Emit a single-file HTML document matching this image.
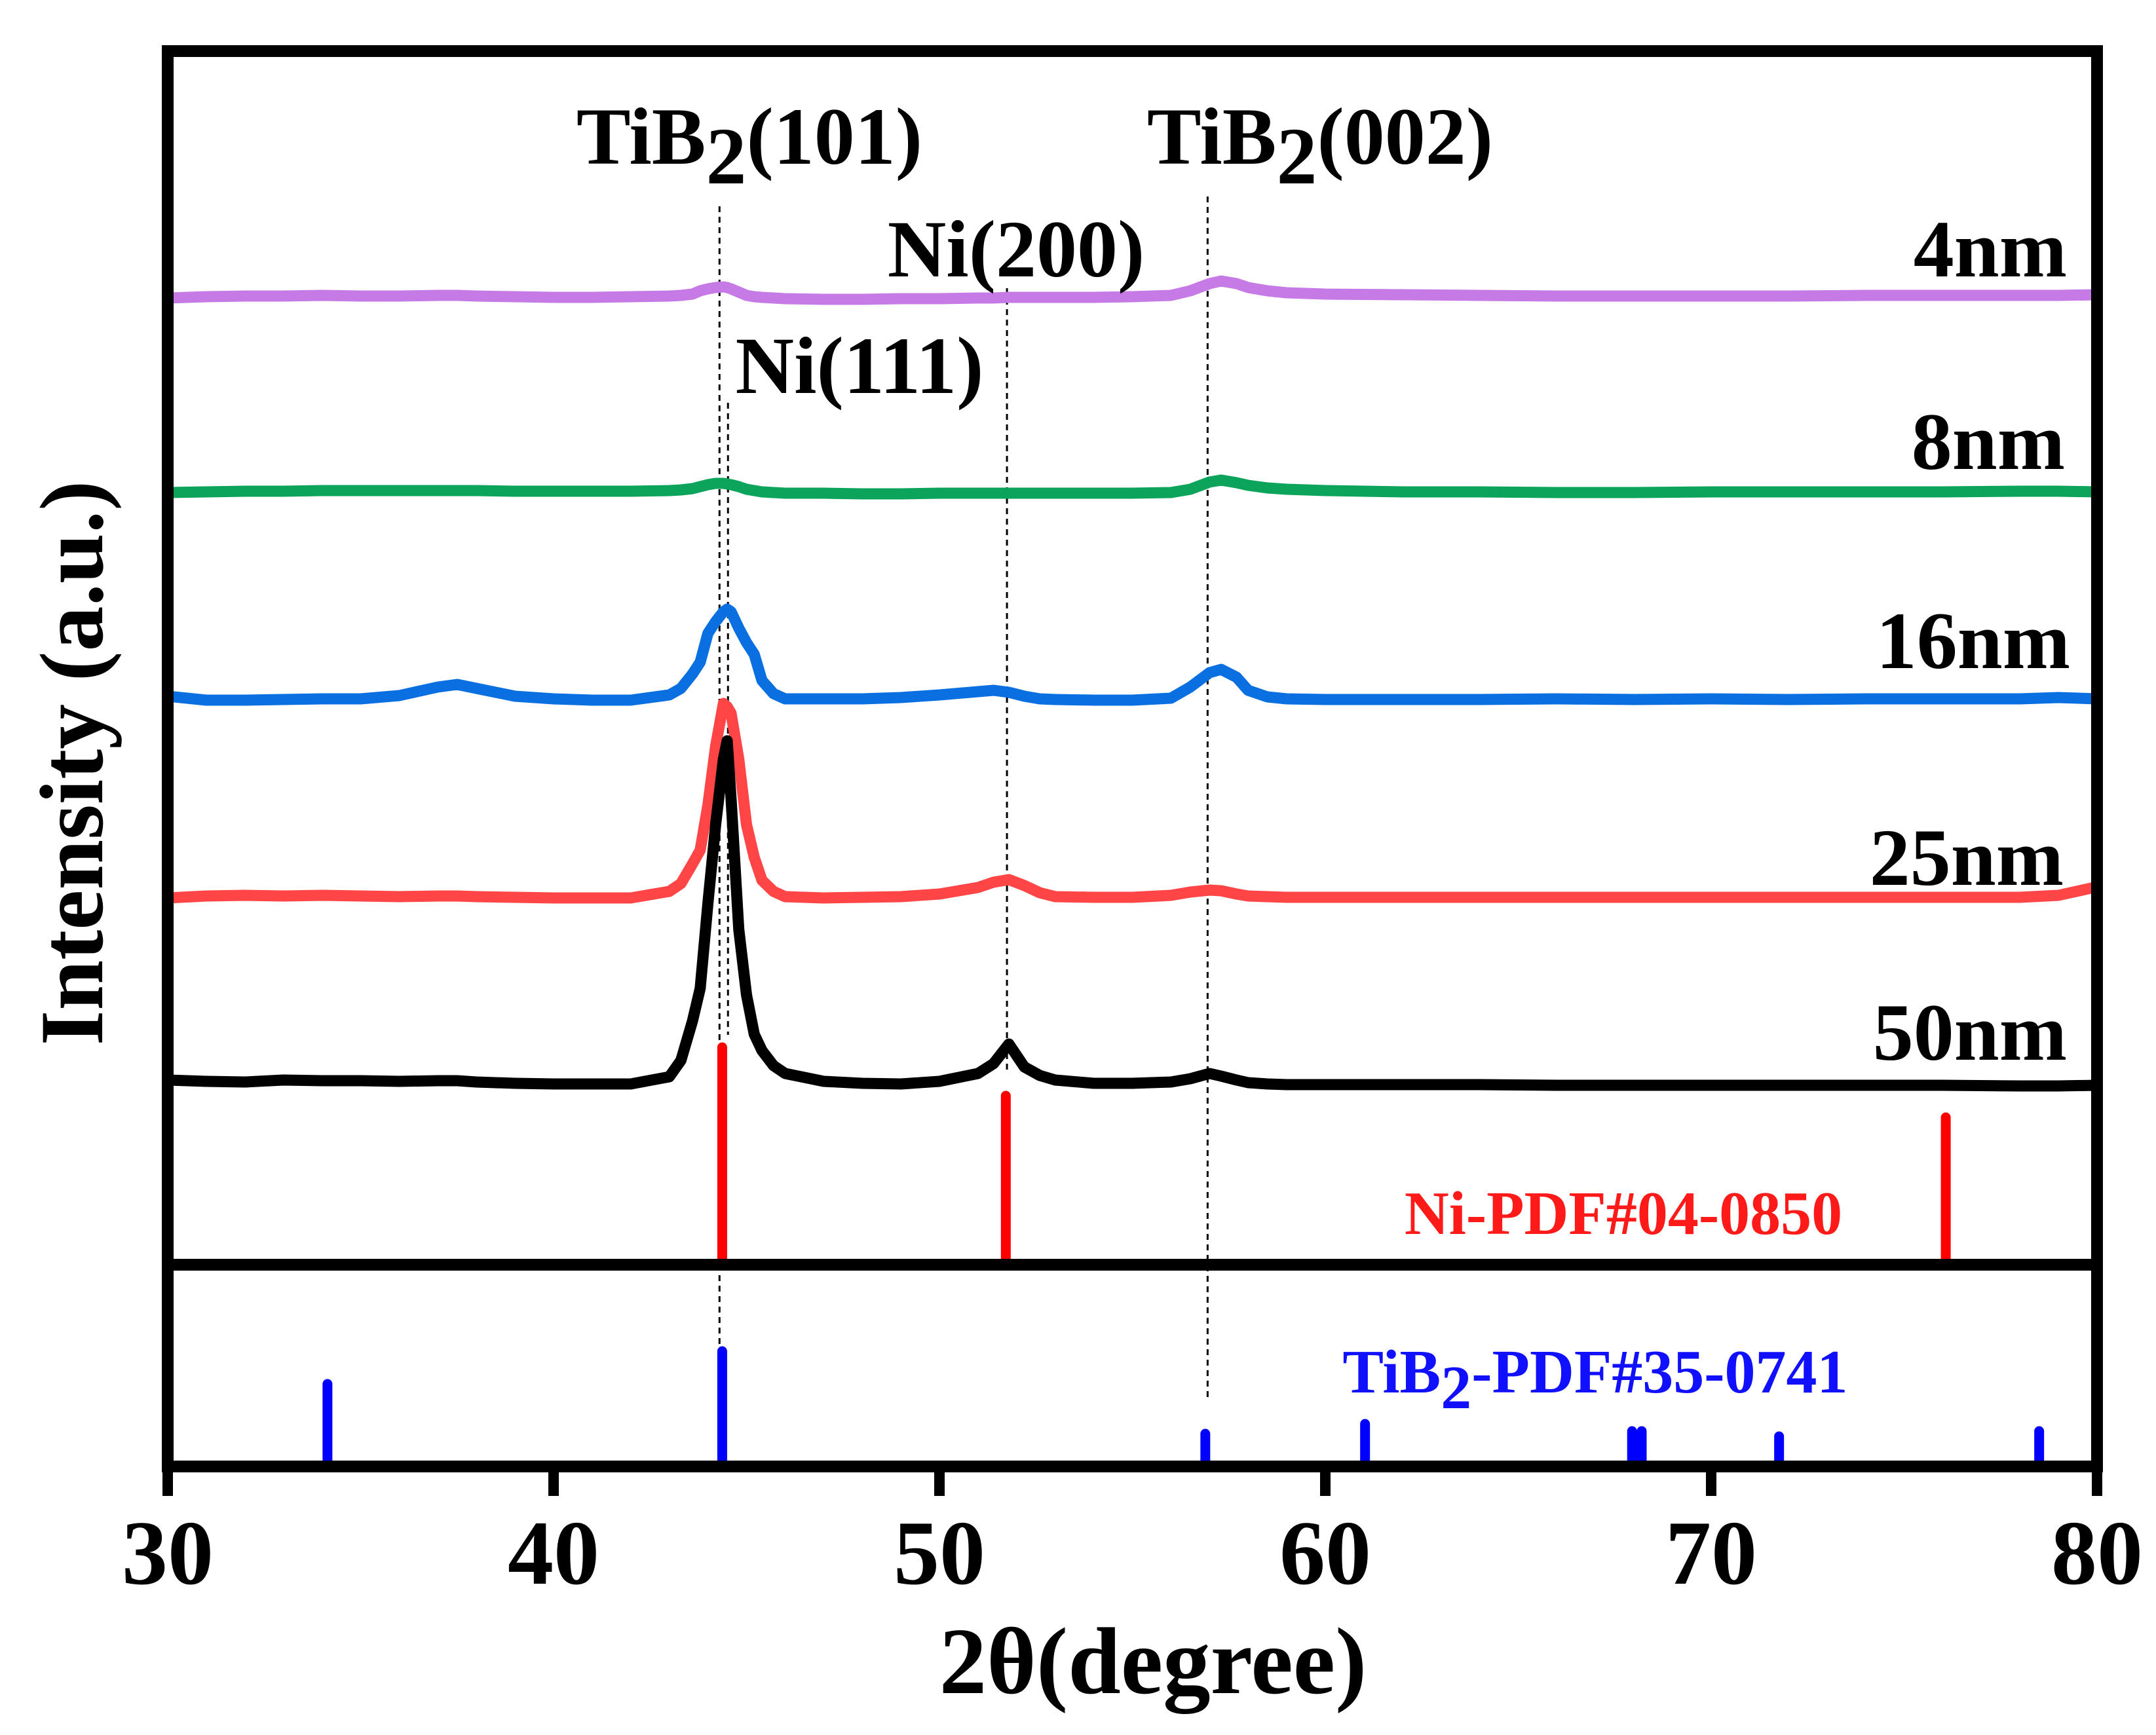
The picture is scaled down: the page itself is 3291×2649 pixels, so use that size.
<!DOCTYPE html>
<html><head><meta charset="utf-8"><title>XRD patterns</title>
<style>html,body{margin:0;padding:0;background:#fff}svg{display:block}</style></head>
<body>
<svg id="chart" width="3291" height="2649" viewBox="0 0 3291 2649" xmlns="http://www.w3.org/2000/svg" font-family="'Liberation Serif', serif" font-weight="bold">
<g id="refs"></g>
<g id="traces"></g>
<g id="sticks"></g>
<g id="frame"></g>
<g id="labels">
  <text x="1144" y="250" font-size="124" text-anchor="middle">TiB<tspan dy="30">2</tspan><tspan dy="-30">(101)</tspan></text>
  <text x="2015" y="250" font-size="124" text-anchor="middle">TiB<tspan dy="30">2</tspan><tspan dy="-30">(002)</tspan></text>
  <text x="1551" y="422" font-size="124" text-anchor="middle">Ni(200)</text>
  <text x="1312" y="600" font-size="124" text-anchor="middle">Ni(111)</text>
  <text x="3155" y="422" font-size="124" text-anchor="end">4nm</text>
  <text x="3152" y="716" font-size="124" text-anchor="end">8nm</text>
  <text x="3160" y="1020" font-size="124" text-anchor="end">16nm</text>
  <text x="3150" y="1351" font-size="124" text-anchor="end">25nm</text>
  <text x="3155" y="1618" font-size="124" text-anchor="end">50nm</text>
  <text x="2478" y="1884" font-size="94" fill="#ff1a1a" text-anchor="middle">Ni-PDF#04-0850</text>
  <text x="2435" y="2126" font-size="94" fill="#1010ff" text-anchor="middle">TiB<tspan dy="24">2</tspan><tspan dy="-24">-PDF#35-0741</tspan></text>
  <text transform="translate(156,1165) rotate(-90)" font-size="138" text-anchor="middle">Intensity (a.u.)</text>
  <text x="1760" y="2585" font-size="145" text-anchor="middle">2θ(degree)</text>
</g>
<g id="ticks"></g>
</svg>
<script>
const xs = [30,31,32,33,34,35,36,37,37.5,38,39,40,41,42,43,43.3,43.6,43.8,44,44.2,44.4,44.5,44.6,44.8,45,45.2,45.4,45.7,46,47,48,49,50,51,51.4,51.8,52.2,52.6,53,54,55,56,56.5,57,57.3,57.7,58,58.5,59,60,62,64,66,68,70,72,74,76,78,79,80];
const s4nm = [1784,1786,1787,1787,1788,1787,1787,1788,1788,1787,1786,1785,1785,1786,1787,1788,1790,1795,1798,1800,1801,1800,1798,1793,1788,1786,1785,1784,1783,1782,1782,1783,1783,1784,1784,1785,1785,1785,1785,1785,1786,1788,1795,1806,1810,1806,1800,1795,1792,1790,1789,1788,1787,1787,1787,1787,1788,1788,1788,1788,1789];
const s8nm = [1487,1488,1489,1489,1490,1490,1490,1490,1490,1490,1489,1489,1489,1489,1490,1491,1493,1496,1499,1501,1501,1500,1499,1496,1492,1490,1488,1487,1486,1486,1485,1485,1486,1486,1486,1486,1486,1486,1486,1486,1486,1487,1492,1503,1506,1502,1498,1494,1492,1490,1488,1488,1487,1487,1488,1488,1488,1488,1489,1489,1488];
const s16nm = [1176,1170,1170,1171,1172,1172,1177,1190,1194,1188,1176,1172,1170,1170,1178,1188,1210,1228,1272,1290,1305,1309,1305,1280,1258,1240,1200,1180,1172,1172,1172,1174,1178,1183,1185,1182,1176,1172,1171,1170,1170,1173,1190,1212,1217,1205,1185,1175,1172,1171,1171,1171,1172,1171,1172,1171,1172,1172,1172,1174,1172];
const s25nm = [868,871,872,871,872,871,870,871,871,870,869,868,868,868,878,890,920,941,1010,1100,1165,1160,1150,1080,980,930,895,878,870,868,869,870,874,884,892,896,887,876,870,869,869,872,877,880,879,874,871,870,869,869,869,869,869,869,869,869,869,869,869,872,885];
const s50nm = [590,588,587,590,589,589,588,589,589,587,585,584,584,584,595,620,680,730,860,980,1080,1108,1020,820,720,660,635,612,600,588,585,584,588,600,615,645,610,597,590,585,585,587,592,600,596,590,586,584,583,583,583,583,582,582,582,582,582,582,581,581,582];
const seriesNames = ['4nm','8nm','16nm','25nm','50nm'];
const seriesData = [s4nm, s8nm, s16nm, s25nm, s50nm];
const seriesColors = ['#c57ae6','#0ca35a','#0a6fe0','#ff4545','#000000'];
const niPos = [44.37, 51.72, 76.08];
const niInt = [640, 566, 533];
const tibPos = [34.14, 44.37, 56.89, 61.03, 67.95, 68.2, 71.76, 78.5];
const tibInt = [126, 176, 50, 65, 54, 54, 46, 54];
const dashX = [44.3, 44.52, 51.75, 56.95];
const dashTop = [315, 615, 440, 300];
const dashBottom = [2063, 1580, 1640, 2135];
const xTicks = [30,40,50,60,70,80];

const NS='http://www.w3.org/2000/svg';
const X0=256, X1=3201, YB=2239;
function xPx(v){return X0+(v-30)/(80-30)*(X1-X0);}
function yPx(v){return YB-v;}
function mk(tag,attrs,parent){const e=document.createElementNS(NS,tag);for(const k in attrs)e.setAttribute(k,attrs[k]);parent.appendChild(e);return e;}

const refs=document.getElementById('refs');
dashX.forEach((d,i)=>{
  const l=mk('line',{x1:xPx(d),x2:xPx(d),y1:dashTop[i],y2:dashBottom[i],stroke:'#000','stroke-width':3,'stroke-dasharray':'9 7'},refs);
  
  
});

const traces=document.getElementById('traces');
seriesData.forEach((arr,i)=>{
  const pts=arr.map((v,j)=>xPx(xs[j]).toFixed(1)+','+yPx(v).toFixed(1)).join(' ');
  const p=mk('polyline',{points:pts,fill:'none',stroke:seriesColors[i],'stroke-width':17,'stroke-linejoin':'round','stroke-linecap':'round'},traces);
  
  
});

const sticks=document.getElementById('sticks');
niPos.forEach((d,i)=>{
  const l=mk('line',{x1:xPx(d),x2:xPx(d),y1:1931,y2:yPx(niInt[i]),stroke:'#ff0000','stroke-width':15,'stroke-linecap':'round'},sticks);
  
  
});
tibPos.forEach((d,i)=>{
  const l=mk('line',{x1:xPx(d),x2:xPx(d),y1:YB,y2:YB-tibInt[i],stroke:'#0000ff','stroke-width':15,'stroke-linecap':'round'},sticks);
  
  
});

const frame=document.getElementById('frame');
const r=mk('rect',{x:X0,y:78,width:X1-X0,height:YB-78,fill:'none',stroke:'#000','stroke-width':18},frame);


const sep=mk('line',{x1:X0,x2:X1,y1:1931,y2:1931,stroke:'#000','stroke-width':18},frame);



const ticks=document.getElementById('ticks');
xTicks.forEach(t=>{
  const l=mk('line',{x1:xPx(t),x2:xPx(t),y1:YB,y2:2284,stroke:'#000','stroke-width':16},ticks);
  
  
  const tx=mk('text',{x:xPx(t),y:2418,'font-size':140,'text-anchor':'middle'},ticks);
  tx.textContent=t;
  
  
});
</script>
</body></html>
